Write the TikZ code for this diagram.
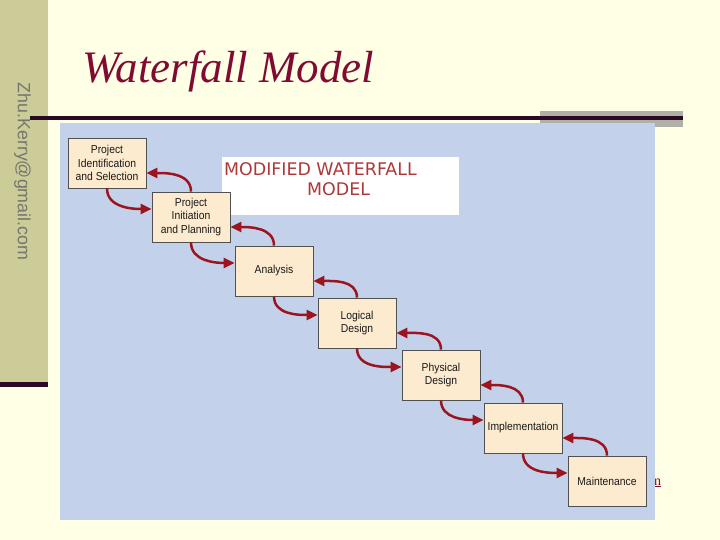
\documentclass[tikz,border=0pt]{standalone}
\usepackage{fontspec}
\setmainfont{Liberation Serif}
\newfontfamily\sidefont{Liberation Sans}
\newfontfamily\boxfont[FakeStretch=0.9]{Liberation Sans}
\newfontfamily\capfont{DejaVu Sans}
\usetikzlibrary{arrows.meta}
\definecolor{bgcream}{RGB}{255,255,229}
\definecolor{sidebar}{RGB}{204,204,153}
\definecolor{darkbar}{RGB}{43,8,36}
\definecolor{titlered}{RGB}{128,10,50}
\definecolor{imgblue}{RGB}{195,209,234}
\definecolor{boxfill}{RGB}{253,235,208}
\definecolor{boxedge}{RGB}{80,80,80}
\definecolor{arrowred}{RGB}{155,20,30}
\definecolor{capred}{RGB}{175,55,55}
\definecolor{shadowgray}{RGB}{176,176,168}
\definecolor{mailgray}{RGB}{118,118,110}
\tikzset{
  stagebox/.style={draw=boxedge, line width=0.9pt, fill=boxfill,
    minimum width=78pt, minimum height=50pt, inner sep=0pt,
    align=center, font=\boxfont\fontsize{11.5}{13.7}\selectfont, text=black!90},
  flowarrow/.style={draw=arrowred, line width=2.5pt,
    -{Triangle[length=11pt,width=10pt]}},
}
\begin{document}
\begin{tikzpicture}[x=1pt,y=-1pt]
\useasboundingbox (0,0) rectangle (720,540);
\fill[bgcream] (0,0) rectangle (720,540);
% sidebar
\fill[sidebar] (0,0) rectangle (48,382);
\fill[darkbar] (0,382) rectangle (48,387);
\node[rotate=-90, font=\sidefont\fontsize{17.8}{20}\selectfont, text=mailgray, inner sep=0pt] (mail) at (22.5,171.5) {Zhu.Kerry@gmail.com};
% title
\node[anchor=base west, font=\itshape\fontsize{45}{50}\selectfont, text=titlered, inner sep=0pt] (title) at (82,83) {Waterfall Model};
% shadow rectangle and rule
\fill[shadowgray] (540,111) rectangle (683,127);
\fill[darkbar] (30,116) rectangle (683,120);
% hyperlink fragment
\node[anchor=base west, font=\fontsize{14}{16}\selectfont, text=titlered, inner sep=0pt] (lnk) at (654,485) {\underline{n}};
% image
\fill[imgblue] (60,123) rectangle (655,520);
% caption box
\fill[white] (222,157) rectangle (459,215);
\node[anchor=base west, font=\capfont\fontsize{17.4}{20}\selectfont, text=capred, inner sep=0pt] (cap1) at (224,176) {MODIFIED WATERFALL};
\node[anchor=base west, font=\capfont\fontsize{17.4}{20}\selectfont, text=capred, inner sep=0pt] (cap2) at (307,196) {MODEL};
% stages
\node[stagebox] (b1) at (107,163) {Project\\Identification\\and Selection};
\node[stagebox] (b2) at (191,217) {Project\\Initiation\\and Planning};
\node[stagebox] (b3) at (274,271) {Analysis};
\node[stagebox] (b4) at (357,323) {Logical\\Design};
\node[stagebox] (b5) at (441,375) {Physical\\Design};
\node[stagebox] (b6) at (523,428) {Implementation};
\node[stagebox] (b7) at (607,481) {Maintenance};
% arrows
\foreach \a/\b in {b1/b2,b2/b3,b3/b4,b4/b5,b5/b6,b6/b7}{
  \draw[flowarrow] (\a.south) to[out=-90,in=180] ([yshift=8pt]\b.west);
  \draw[flowarrow] (\b.north) to[out=90,in=0] ([yshift=-10pt]\a.east);
}
\end{tikzpicture}
\end{document}
